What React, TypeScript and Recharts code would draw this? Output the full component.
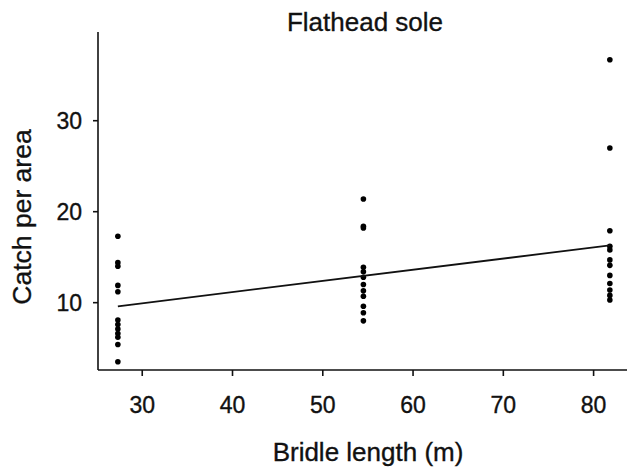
import { ScatterChart, Scatter, XAxis, YAxis, Label } from "recharts";

// bridle lengths (m) at which the hauls were made
const bridleLengths = [27.3, 54.5, 81.8];

// catch per area
const catchShort = [17.3, 14.4, 14.0, 11.9, 11.2, 8.1, 7.6, 7.1, 6.6, 6.2, 5.4, 3.5];
const catchMedium = [21.4, 18.4, 18.2, 13.9, 13.4, 12.8, 12.0, 11.3, 10.7, 9.6, 8.9, 8.0];
const catchLong = [36.7, 27.0, 17.9, 16.2, 15.8, 14.7, 14.1, 13.0, 12.1, 11.4, 10.8, 10.3];

// fitted regression line end points
const fitX = [27.3, 81.8];
const fitY = [9.6, 16.3];

const xTicks = [30, 40, 50, 60, 70, 80];
const yTicks = [10, 20, 30];

const points = [catchShort, catchMedium, catchLong].flatMap((col, i) =>
  col.map((y) => ({ x: bridleLengths[i], y }))
);
const fit = fitX.map((x, i) => ({ x, y: fitY[i] }));

const font = "'Liberation Sans', Arial, Helvetica, sans-serif";
const ink = "#111";
// scanned figure: give text a touch of extra weight
const textWeight = { stroke: ink, strokeWidth: 0.35 };

const Dot = (props: any) => <circle cx={props.cx} cy={props.cy} r={2.8} fill="#000" />;
const NoDot = () => <g />;

export default function App() {
  return (
    <div style={{ position: "absolute", left: 0, top: 0, background: "#fff" }}>
      <ScatterChart width={627} height={470} margin={{ top: 32, right: 0, bottom: 40, left: 38 }}>
        <XAxis
          type="number"
          dataKey="x"
          domain={[25.1, 83.7]}
          ticks={xTicks}
          height={60}
          tickSize={6}
          tickMargin={21}
          stroke={ink}
          strokeWidth={1.6}
          tick={{ fill: ink, fontSize: 23, fontFamily: font, ...textWeight }}
          allowDataOverflow
        >
          <Label
            content={() => (
              <text x={368} y={461} textAnchor="middle" fill={ink} fontSize={26} fontFamily={font} {...textWeight}>
                Bridle length (m)
              </text>
            )}
          />
        </XAxis>
        <YAxis
          type="number"
          dataKey="y"
          domain={[2.6, 39.75]}
          ticks={yTicks}
          width={60}
          tickSize={5}
          tickMargin={11}
          stroke={ink}
          strokeWidth={1.6}
          tick={{ fill: ink, fontSize: 23, fontFamily: font, ...textWeight }}
          allowDataOverflow
        >
          <Label
            content={() => (
              <g>
                <text
                  x={22}
                  y={217}
                  transform="rotate(-90 22 217)"
                  textAnchor="middle"
                  dominantBaseline="central"
                  fill={ink}
                  fontSize={26.5}
                  fontFamily={font}
                  {...textWeight}
                >
                  Catch per area
                </text>
                <text x={365} y={31} textAnchor="middle" fill={ink} fontSize={26} fontFamily={font} {...textWeight}>
                  Flathead sole
                </text>
              </g>
            )}
          />
        </YAxis>
        <Scatter data={points} shape={Dot} isAnimationActive={false} />
        <Scatter
          data={fit}
          shape={NoDot}
          line={{ stroke: ink, strokeWidth: 1.8 }}
          isAnimationActive={false}
        />
      </ScatterChart>
    </div>
  );
}
